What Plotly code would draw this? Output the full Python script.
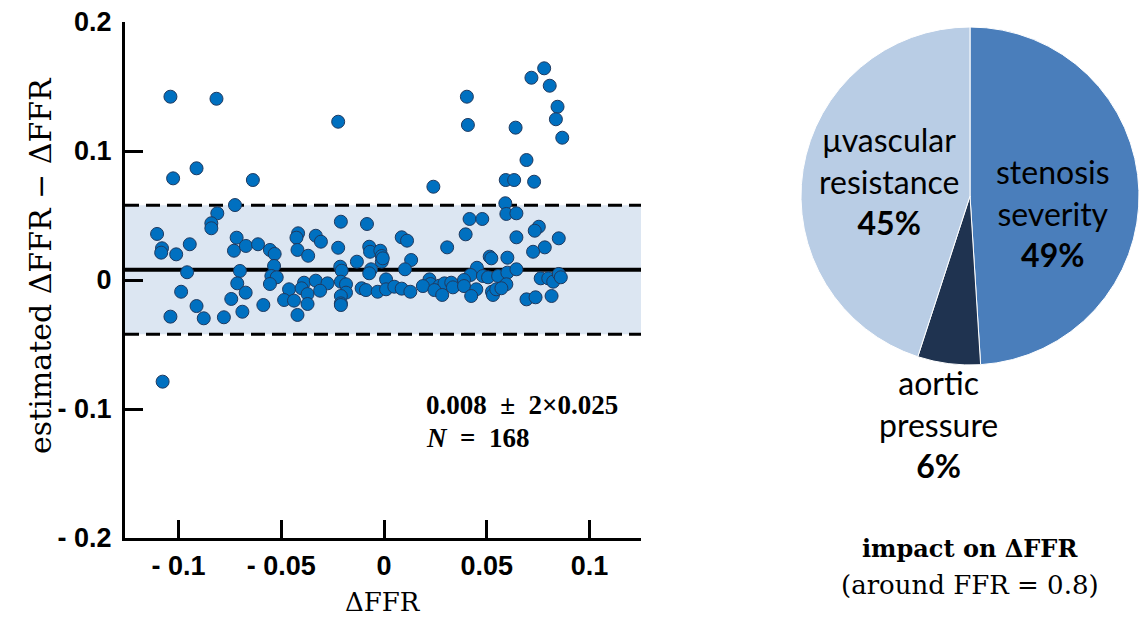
import plotly.graph_objects as go

# ---------------- data ----------------
dffr = [
    -0.1039, -0.0815, -0.0223, -0.1026, -0.0912, -0.0638, 0.0779, 0.0717, 0.0806, 0.0844,
    0.0836, 0.0867, 0.0403, 0.0408, 0.0640, 0.0693, 0.0592, 0.0633, 0.0730, 0.0240,
    -0.1077,
    -0.0725, -0.0811, -0.0840, -0.0840, -0.1104, -0.0717, -0.1080, -0.1084, -0.1011, -0.0945,
    -0.0730, -0.0672, -0.0613, -0.0958, -0.0701, -0.0714, -0.0987, -0.0673, -0.0743, -0.0912,
    -0.0587, -0.0689, -0.1039, -0.0877, -0.0779,
    -0.0555, -0.0532, -0.0535, -0.0548, -0.0522, -0.0555, -0.0210, -0.0083, -0.0418, -0.0426,
    -0.0332, -0.0307, -0.0223, -0.0421, -0.0369, -0.0072, -0.0068, -0.0018, -0.0011, -0.0011,
    -0.0132, -0.0213, -0.0206, -0.0063, -0.0072, 0.0010, -0.0389, -0.0332, -0.0275, -0.0210,
    -0.0185, -0.0462, -0.0401, -0.0372, -0.0311, -0.0185, -0.0210, -0.0109, -0.0088, -0.0031,
    0.0010, -0.0486, -0.0438, -0.0372, -0.0210, -0.0210, -0.0421,
    0.0590, 0.0595, 0.0416, 0.0478, 0.0397, 0.0086, 0.0112, 0.0307, 0.0132, 0.0514,
    0.0522, 0.0600, 0.0102, 0.0452, 0.0421, 0.0481, 0.0506, 0.0555, 0.0600, 0.0050,
    0.0086, 0.0128, 0.0221, 0.0226, 0.0189, 0.0270, 0.0294, 0.0327, 0.0335, 0.0245,
    0.0283, 0.0389, 0.0389, 0.0449, 0.0424, 0.0525, 0.0530, 0.0546, 0.0595,
    0.0644, 0.0753, 0.0733, 0.0644, 0.0850, 0.0782, 0.0725, 0.0644, 0.0571, 0.0762,
    0.0799, 0.0823, 0.0850, 0.0860, 0.0693, 0.0737, 0.0815, -0.0006,
]
diff = [
    0.1421, 0.1405, 0.1227, 0.0788, 0.0866, 0.0775, 0.1641, 0.1568, 0.1506, 0.1343,
    0.1246, 0.1103, 0.1421, 0.1202, 0.1181, 0.0930, 0.0775, 0.0775, 0.0762, 0.0723,
    -0.0788,
    0.0581, 0.0517, 0.0440, 0.0401, 0.0357, 0.0328, 0.0246, 0.0212, 0.0199, 0.0277,
    0.0227, 0.0264, 0.0277, 0.0060, 0.0070, -0.0026, -0.0091, -0.0098, -0.0147, -0.0202,
    -0.0194, -0.0246, -0.0284, -0.0297, -0.0289,
    0.0233, 0.0202, 0.0109, 0.0031, 0.0021, -0.0031, 0.0452, 0.0434, 0.0362, 0.0328,
    0.0343, 0.0297, 0.0250, 0.0233, 0.0188, 0.0258, 0.0219, 0.0227, 0.0186, 0.0142,
    0.0142, 0.0103, 0.0072, 0.0083, 0.0052, 0.0005, -0.0021, -0.0005, -0.0026, -0.0013,
    -0.0033, -0.0072, -0.0064, -0.0109, -0.0083, -0.0098, -0.0124, -0.0064, -0.0078, -0.0091,
    -0.0072, -0.0155, -0.0160, -0.0186, -0.0181, -0.0194, -0.0271,
    0.0595, 0.0512, 0.0473, 0.0473, 0.0354, 0.0331, 0.0305, 0.0253, 0.0155, 0.0181,
    0.0168, 0.0173, 0.0083, 0.0095, 0.0039, 0.0031, 0.0021, 0.0031, 0.0057, -0.0052,
    -0.0067, -0.0091, 0.0005, -0.0031, -0.0047, -0.0044, -0.0026, -0.0021, -0.0057, -0.0078,
    -0.0116, 0.0000, -0.0047, -0.0072, -0.0124, -0.0091, -0.0116, -0.0072, -0.0033,
    0.0517, 0.0413, 0.0382, 0.0331, 0.0323, 0.0253, 0.0219, 0.0083, -0.0064, 0.0013,
    0.0013, -0.0013, 0.0047, 0.0021, -0.0150, -0.0134, -0.0124, 0.0168,
]

mean_diff = 0.008
sd_diff = 0.025
n_total = 168

x_ticks = [-0.1, -0.05, 0, 0.05, 0.1]
x_ticktext = ["- 0.1", "- 0.05", "0", "0.05", "0.1"]
y_ticks = [-0.2, -0.1, 0, 0.1, 0.2]
y_ticktext = ["- 0.2", "- 0.1", "0", "0.1", "0.2"]

pie_labels = ["stenosis<br>severity", "aortic<br>pressure", "\u03bcvascular<br>resistance"]
pie_values = [49, 6, 45]
pie_colors = ["#4a7ebb", "#1f3350", "#b9cde5"]

# ---------------- figure ----------------
W, H = 1144, 621
X_RANGE = [-0.126, 0.125]

def px(x):
    return x / W

def py(y):
    return 1 - y / H

fig = go.Figure()

fig.add_trace(go.Scatter(
    x=dffr, y=diff, mode="markers",
    marker=dict(size=13, color="#0070c0", line=dict(color="#1f3a60", width=1)),
    showlegend=False, hoverinfo="skip",
))

fig.add_trace(go.Pie(
    labels=[l.replace("<br>", " ") for l in pie_labels], values=pie_values,
    sort=False, direction="clockwise", rotation=0,
    marker=dict(colors=pie_colors, line=dict(color="white", width=1)),
    textinfo="none", showlegend=False, hoverinfo="skip",
    domain=dict(x=[px(970 - 169), px(970 + 169)], y=[py(365), py(27)]),
))

lo = mean_diff - 2 * sd_diff
hi = mean_diff + 2 * sd_diff
shapes = [
    dict(type="rect", xref="x", yref="y", x0=X_RANGE[0], x1=X_RANGE[1], y0=lo, y1=hi,
         fillcolor="#dce6f2", line=dict(width=0), layer="below"),
    dict(type="line", xref="x", yref="y", x0=X_RANGE[0], x1=X_RANGE[1], y0=hi, y1=hi,
         line=dict(color="black", width=3, dash="14px,7px"), layer="below"),
    dict(type="line", xref="x", yref="y", x0=X_RANGE[0], x1=X_RANGE[1], y0=lo, y1=lo,
         line=dict(color="black", width=3, dash="14px,7px"), layer="below"),
    dict(type="line", xref="x", yref="y", x0=X_RANGE[0], x1=X_RANGE[1], y0=mean_diff, y1=mean_diff,
         line=dict(color="black", width=4), layer="below"),
]

serif = "DejaVu Serif"
times = "Liberation Serif"
sans_pie = "Lato"

annotations = [
    dict(x=px(40), y=py(266), xref="paper", yref="paper", textangle=-90,
         text="estimated \u0394FFR \u2212 \u0394FFR", showarrow=False,
         font=dict(family=serif, size=30, color="black"), xanchor="center", yanchor="middle"),
    dict(x=px(383), y=py(602), xref="paper", yref="paper",
         text="\u0394FFR", showarrow=False,
         font=dict(family=serif, size=26, color="black"), xanchor="center", yanchor="middle"),
    dict(x=px(424), y=py(405), xref="paper", yref="paper",
         text=f"<b>{mean_diff:.3f} \u00a0\u00b1\u00a0 2\u00d7{sd_diff:.3f}</b>", showarrow=False,
         font=dict(family=times, size=27, color="black"), xanchor="left", yanchor="middle"),
    dict(x=px(424), y=py(438), xref="paper", yref="paper",
         text=f"<b><i>N</i> \u00a0=\u00a0 {n_total}</b>", showarrow=False,
         font=dict(family=times, size=27, color="black"), xanchor="left", yanchor="middle"),
    dict(x=px(970), y=py(548), xref="paper", yref="paper",
         text="<b>impact on \u0394FFR</b>", showarrow=False,
         font=dict(family=serif, size=24, color="black"), xanchor="center", yanchor="middle"),
    dict(x=px(970), y=py(585), xref="paper", yref="paper",
         text="(around FFR = 0.8)", showarrow=False,
         font=dict(family=serif, size=26, color="black"), xanchor="center", yanchor="middle"),
]

label_pos = [(1053, 213), (938, 424), (889, 181)]
for lab, val, (lx, ly) in zip(pie_labels, pie_values, label_pos):
    annotations.append(dict(
        x=px(lx), y=py(ly), xref="paper", yref="paper",
        text=f"{lab}<br><b>{val}%</b>", showarrow=False,
        font=dict(family=sans_pie, size=32, color="black"),
        xanchor="center", yanchor="middle", align="center",
    ))

tickfont = dict(family="Liberation Sans, Arial", size=27, color="black", weight="bold")

fig.update_layout(
    width=W, height=H,
    margin=dict(l=0, r=0, t=0, b=0, pad=0, autoexpand=False),
    paper_bgcolor="white", plot_bgcolor="rgba(0,0,0,0)",
    shapes=shapes, annotations=annotations,
    xaxis=dict(
        domain=[px(125), px(641)], range=X_RANGE, automargin=False,
        tickvals=x_ticks, ticktext=x_ticktext, tickfont=tickfont,
        ticks="inside", ticklen=18, tickwidth=3, tickcolor="black",
        showline=True, linewidth=3, linecolor="black",
        showgrid=False, zeroline=False, ticklabelstandoff=2,
    ),
    yaxis=dict(
        domain=[py(538), py(22)], range=[-0.2, 0.2], automargin=False,
        tickvals=y_ticks, ticktext=y_ticktext, tickfont=tickfont,
        ticks="inside", ticklen=18, tickwidth=3, tickcolor="black",
        showline=True, linewidth=3, linecolor="black",
        showgrid=False, zeroline=False, ticklabelstandoff=5,
    ),
)

fig.write_html("out.html")
